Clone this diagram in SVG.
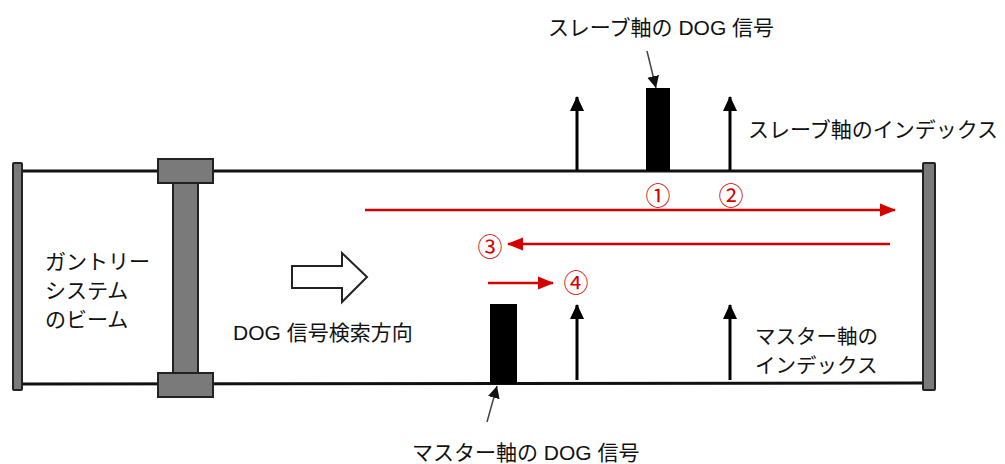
<svg xmlns="http://www.w3.org/2000/svg" width="1005" height="464" viewBox="0 0 1005 464">
<defs>
<style>
.t{font-family:"Liberation Sans","Noto Sans CJK JP",sans-serif;font-size:21px;fill:#111}
.r{font-family:"Noto Sans CJK JP","Liberation Sans",sans-serif;font-size:25px;fill:#d40000}
.rail{stroke:#111;stroke-width:3;fill:none}
.gray{fill:#7a7a7a;stroke:#222;stroke-width:2}
.blk{stroke:#000;stroke-width:3;fill:none}
.red{stroke:#d40000;stroke-width:2.5;fill:none}
.ptr{stroke:#444;stroke-width:1.5;fill:none}
</style>
<marker id="ah" markerUnits="userSpaceOnUse" markerWidth="16" markerHeight="16" refX="14" refY="8" orient="auto">
<path d="M0,1 L15,8 L0,15 Z" fill="#000"/>
</marker>
<marker id="rh" markerUnits="userSpaceOnUse" markerWidth="16" markerHeight="16" refX="15" refY="8" orient="auto">
<path d="M0,1.5 L16,8 L0,14.5 Z" fill="#d40000"/>
</marker>
<marker id="ph" markerUnits="userSpaceOnUse" markerWidth="14" markerHeight="14" refX="12" refY="7" orient="auto">
<path d="M0,1 L12,7 L0,13 Z" fill="#111"/>
</marker>
</defs>

<g id="frame">
<line class="rail" x1="22" y1="171" x2="922" y2="171"/>
<line class="rail" x1="22" y1="384" x2="922" y2="383"/>
<rect class="gray" x="13" y="163" width="9" height="227" rx="1"/>
<rect class="gray" x="923" y="163" width="12" height="227" rx="1"/>
</g>

<g id="gantry">
<rect class="gray" x="173" y="183" width="25" height="190"/>
<rect class="gray" x="158" y="159" width="55" height="24"/>
<rect class="gray" x="158" y="373" width="55" height="24"/>
<text class="t" x="45" y="269">ガントリー</text>
<text class="t" x="45" y="298">システム</text>
<text class="t" x="45" y="327">のビーム</text>
</g>

<g id="slave-dog">
<rect x="646" y="88" width="24" height="83" fill="#000"/>
<text class="t" x="661" y="35" text-anchor="middle">スレーブ軸の DOG 信号</text>
</g>

<g id="slave-index">
<text class="t" x="748" y="137">スレーブ軸のインデックス</text>
</g>

<g id="master-dog">
<rect x="490" y="304" width="27" height="80" fill="#000"/>
<text class="t" x="412" y="460">マスター軸の DOG 信号</text>
</g>

<g id="master-index">
<text class="t" x="755" y="344" style="font-size:20.5px">マスター軸の</text>
<text class="t" x="755" y="373" style="font-size:20.5px">インデックス</text>
</g>

<g id="search-direction">
<path d="M292,266 L342,266 L342,253 L367,277 L342,302 L342,288 L292,288 Z" fill="#fff" stroke="#222" stroke-width="2"/>
<text class="t" x="233" y="340">DOG 信号検索方向</text>
</g>

<g id="steps">
<text class="r" x="658" y="205" text-anchor="middle">①</text>
<text class="r" x="731" y="205" text-anchor="middle">②</text>
<text class="r" x="490" y="256" text-anchor="middle">③</text>
<text class="r" x="576" y="292" text-anchor="middle">④</text>
</g>

<g id="connectors">
<line class="blk" x1="577" y1="170" x2="577" y2="97" marker-end="url(#ah)"/>
<line class="blk" x1="730" y1="170" x2="730" y2="97" marker-end="url(#ah)"/>
<line class="blk" x1="577" y1="380" x2="577" y2="305" marker-end="url(#ah)"/>
<line class="blk" x1="730" y1="380" x2="730" y2="305" marker-end="url(#ah)"/>
<line class="red" x1="365" y1="210" x2="895" y2="210" marker-end="url(#rh)"/>
<line class="red" x1="890" y1="244" x2="508" y2="244" marker-end="url(#rh)"/>
<line class="red" x1="488" y1="283" x2="553" y2="283" marker-end="url(#rh)"/>
<line class="ptr" x1="647" y1="51" x2="656" y2="88" marker-end="url(#ph)"/>
<line class="ptr" x1="487" y1="422" x2="497" y2="386" marker-end="url(#ph)"/>
</g>
</svg>
